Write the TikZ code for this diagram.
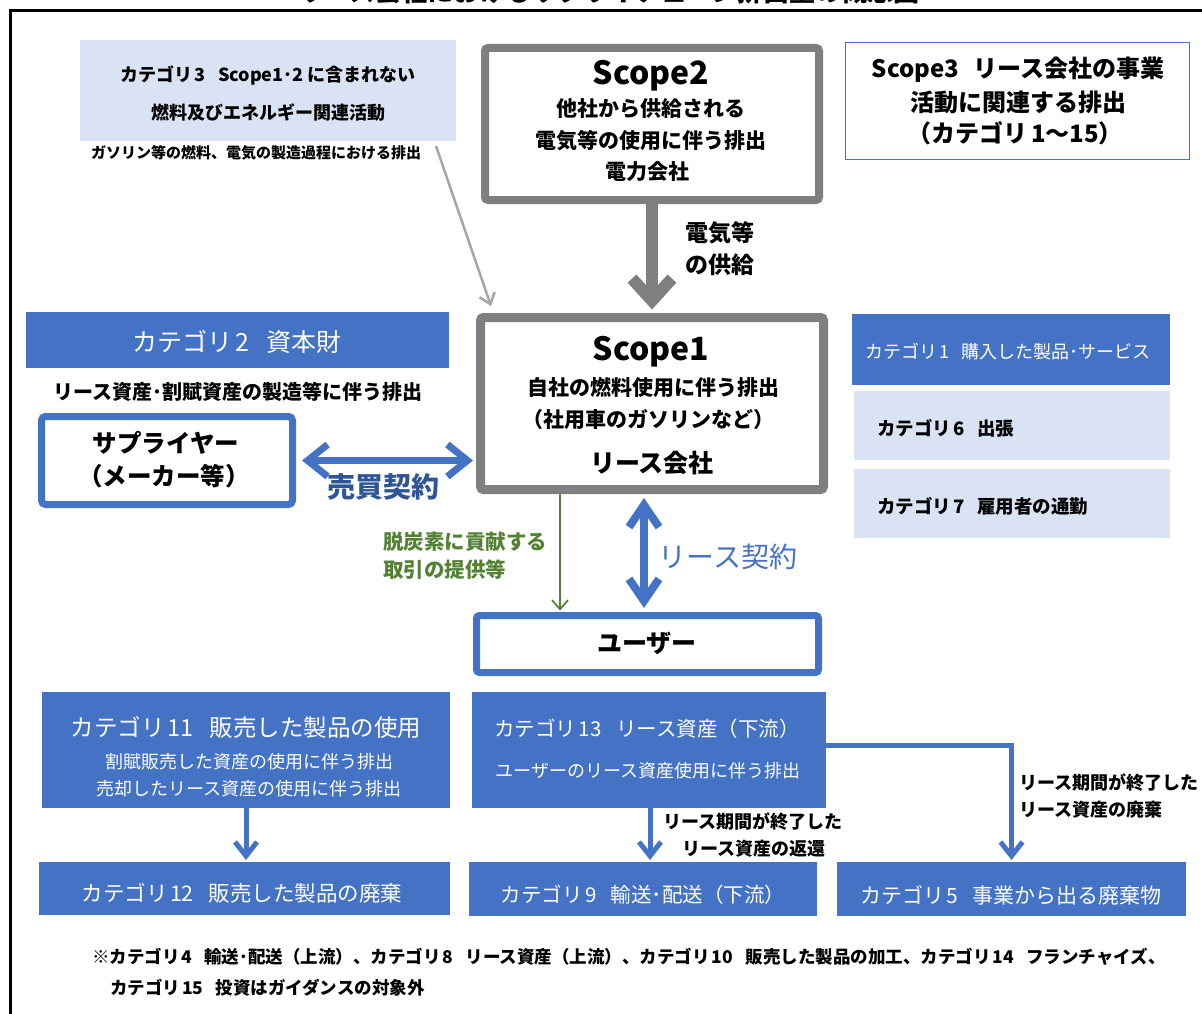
\documentclass[tikz,border=0pt]{standalone}
\usepackage{fontspec}
\setmainfont{Noto Sans CJK JP}
\usetikzlibrary{arrows.meta}
\definecolor{bl}{HTML}{4472C4}
\definecolor{lbl}{HTML}{DAE3F3}
\definecolor{gy}{HTML}{7F7F7F}
\definecolor{lgy}{HTML}{A6A6A6}
\definecolor{gr}{HTML}{548235}
\definecolor{dbl}{HTML}{2F5597}
\newcommand\jfs[1]{\fontsize{#1pt}{#1pt}\selectfont}
\newcommand\ktg[1]{カテゴリ\hspace{0.12em}#1\hspace{0.7em}}
\begin{document}
\begin{tikzpicture}[x=1pt,y=-1pt,
  t/.style={inner sep=0pt,outer sep=0pt},
  bfill/.style={fill=bl,inner sep=0pt,outer sep=0pt},
  lfill/.style={fill=lbl,inner sep=0pt,outer sep=0pt},
  gbox/.style={draw=gy,fill=white,rounded corners=3pt,inner sep=0pt,outer sep=0pt},
  bbox/.style={draw=bl,fill=white,line width=7pt,rounded corners=3pt,inner sep=0pt,outer sep=0pt},
  wt/.style={t,text=white,font=\jfs{#1}},
  kt/.style={t,text=black,font=\bfseries\jfs{#1}},
  bigarr/.style={draw=gy,line width=12pt,-{Straight Barb[length=22pt,width=40pt]}},
  dblarr/.style={draw=bl,line width=7pt,{Straight Barb[length=20pt,width=32pt]}-{Straight Barb[length=20pt,width=32pt]}},
  leasearr/.style={draw=bl,line width=8pt,{Straight Barb[length=22pt,width=30pt]}-{Straight Barb[length=22pt,width=30pt]}},
  smarr/.style={draw=bl,line width=5pt,-{Straight Barb[length=14pt,width=22pt]}},
  grarr/.style={draw=gr,line width=1.8pt,-{Straight Barb[length=9pt,width=16pt]}},
  lgarr/.style={draw=lgy,line width=2.5pt,-{Straight Barb[length=10pt,width=16pt]}}]
\useasboundingbox (0,0) rectangle (1202,1014);
\clip (0,0) rectangle (1202,1014);
% frame and clipped title
\draw[line width=2.6pt] (10.7,10.7) rectangle (1260,1060);
\node[t,anchor=base,font=\bfseries\jfs{26}] (title) at (609,2) {リース会社におけるサプライチェーン排出量の概念図};

% boxes
\node[lfill,minimum width=376pt,minimum height=101pt] (c3) at (268,90.5) {};
\node[gbox,line width=8pt,minimum width=334pt,minimum height=152pt] (s2) at (652,124) {};
\node[draw=bl,line width=1.2pt,fill=white,inner sep=0pt,minimum width=344pt,minimum height=117pt] (s3) at (1017.5,101) {};
\node[bfill,minimum width=423pt,minimum height=56pt] (c2) at (237.5,340) {};
\node[bbox,rounded corners=4pt,minimum width=251pt,minimum height=88pt] (sup) at (167,460.5) {};
\node[gbox,line width=9pt,minimum width=343pt,minimum height=172pt] (s1) at (652,403.5) {};
\node[bfill,minimum width=318pt,minimum height=71pt] (c1) at (1011,349.5) {};
\node[lfill,minimum width=316pt,minimum height=69pt] (c6) at (1012,425.5) {};
\node[lfill,minimum width=316pt,minimum height=69pt] (c7) at (1012,503.5) {};
\node[bbox,minimum width=342pt,minimum height=57pt] (usr) at (647.5,644) {};
\node[bfill,minimum width=408pt,minimum height=116pt] (c11) at (246,750) {};
\node[bfill,minimum width=411pt,minimum height=53pt] (c12) at (244.5,888.5) {};
\node[bfill,minimum width=354pt,minimum height=116pt] (c13) at (649,750) {};
\node[bfill,minimum width=348pt,minimum height=54pt] (c9) at (643,889) {};
\node[bfill,minimum width=349pt,minimum height=54pt] (c5) at (1011.5,889) {};

% helper coordinates
\coordinate (lx) at (644,0);
\coordinate (gx) at (560,0);
\coordinate (ey) at (0,745);

% connectors
\draw[lgarr] ([xshift=-20pt,yshift=-5pt]c3.south east) -- ([xshift=10.5pt,yshift=11.5pt]s1.north west);
\draw[bigarr] (s2.south) -- ([yshift=8pt]s1.north);
\draw[dblarr] ([xshift=9.5pt]sup.east) -- ([xshift=-7.5pt]sup.east -| s1.west);
\draw[grarr] ([yshift=-4.5pt]s1.south -| gx) -- ([yshift=5pt]usr.north -| gx);
\draw[leasearr] ([yshift=-8.5pt]s1.south -| lx) -- ([yshift=7.5pt]usr.north -| lx);
\draw[smarr] (c11.south) -- ([yshift=2pt]c11.south |- c12.north);
\draw[smarr] ([xshift=1pt]c13.south) -- ([xshift=1pt,yshift=2pt]c13.south |- c9.north);
\draw[smarr] (c13.east |- ey) -- (c5.north |- ey) -- ([yshift=2pt]c5.north);

% texts: category 3
\node[kt=18] (c3t1) at (268,75) {\ktg{3}Scope1･2 に含まれない};
\node[kt=18] (c3t2) at (268,113) {燃料及びエネルギー関連活動};
\node[kt=15] (c3t3) at (256,153) {ガソリン等の燃料、電気の製造過程における排出};
% scope 2
\node[kt=32] (s2t1) at (651,76) {Scope2};
\node[kt=21] (s2t2) at (651,109) {他社から供給される};
\node[kt=21] (s2t3) at (651,141) {電気等の使用に伴う排出};
\node[kt=21] (s2t4) at (647,172) {電力会社};
\node[kt=23] (el1) at (720,233) {電気等};
\node[kt=23] (el2) at (720,265) {の供給};
% scope 3
\node[kt=24] (s3t1) at (1018,70) {Scope3\hspace{0.6em}リース会社の事業};
\node[kt=24] (s3t2) at (1018,102) {活動に関連する排出};
\node[kt=24] (s3t3) at (1015,133) {（カテゴリ\,1～15）};
% category 2 and supplier
\node[wt=25] (c2t) at (237,342) {\ktg{2}資本財};
\node[kt=20] (c2s) at (238,392) {リース資産･割賦資産の製造等に伴う排出};
\node[kt=24.5] (supt1) at (166,443) {サプライヤー};
\node[kt=24.5] (supt2) at (164,476) {（メーカー等）};
\node[t,text=dbl,font=\bfseries\jfs{28}] (baibai) at (383,487) {売買契約};
% scope 1
\node[kt=32] (s1t1) at (651,352) {Scope1};
\node[kt=21] (s1t2) at (653,388) {自社の燃料使用に伴う排出};
\node[kt=21] (s1t3) at (648,420) {（社用車のガソリンなど）};
\node[kt=25] (s1t4) at (652,463) {リース会社};
% categories 1, 6, 7
\node[wt=18] (c1t) at (1008,352) {\ktg{1}購入した製品･サービス};
\node[kt=18.5,anchor=west] (c6t) at (877,428) {\ktg{6}出張};
\node[kt=18.5,anchor=west] (c7t) at (877,506) {\ktg{7}雇用者の通勤};
% green label and lease contract
\node[t,text=gr,font=\bfseries\jfs{20.5},anchor=west] (grt1) at (383,542) {脱炭素に貢献する};
\node[t,text=gr,font=\bfseries\jfs{20.5},anchor=west] (grt2) at (383,570) {取引の提供等};
\node[t,text=bl,font=\jfs{28}] (lease) at (728,557) {リース契約};
\node[kt=25] (usrt) at (647,643) {ユーザー};
% categories 11, 12
\node[wt=23.5] (c11t1) at (246,727) {\ktg{11}販売した製品の使用};
\node[wt=18] (c11t2) at (249,762) {割賦販売した資産の使用に伴う排出};
\node[wt=18] (c11t3) at (249,789) {売却したリース資産の使用に伴う排出};
\node[wt=21.5] (c12t) at (242,893) {\ktg{12}販売した製品の廃棄};
% category 13, 9, 5
\node[wt=20.5] (c13t1) at (647,729) {\ktg{13}リース資産（下流）};
\node[wt=18] (c13t2) at (648,771) {ユーザーのリース資産使用に伴う排出};
\node[kt=18] (rt1) at (753,822) {リース期間が終了した};
\node[kt=18] (rt2) at (754,849) {リース資産の返還};
\node[kt=18,anchor=west] (dt1) at (1019,783) {リース期間が終了した};
\node[kt=18,anchor=west] (dt2) at (1019,810) {リース資産の廃棄};
\node[wt=20.5] (c9t) at (643,895) {\ktg{9}輸送･配送（下流）};
\node[wt=21] (c5t) at (1011,895) {\ktg{5}事業から出る廃棄物};
% footnote
\node[kt=17.5,anchor=west] (fn1) at (92,957) {※\ktg{4}輸送･配送（上流）、\ktg{8}リース資産（上流）、\ktg{10}販売した製品の加工、\ktg{14}フランチャイズ、};
\node[kt=17.5,anchor=west] (fn2) at (110,988) {\ktg{15}投資はガイダンスの対象外};
\end{tikzpicture}
\end{document}
